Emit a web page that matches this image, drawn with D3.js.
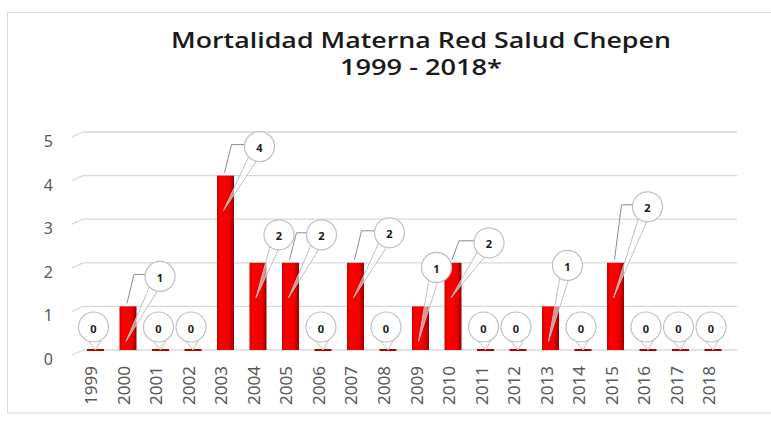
<!DOCTYPE html>
<html>
<head>
<meta charset="utf-8">
<script src="https://cdn.jsdelivr.net/npm/d3@7"></script>
<style>
    body { margin: 0; background: #fff; }
    svg { display: block; }
    text { font-family: "Noto Sans", "Open Sans", sans-serif; }
</style>
</head>
<body>
<div id="chart"></div>
<script>
var years = ["1999", "2000", "2001", "2002", "2003", "2004", "2005", "2006", "2007", "2008",
    "2009", "2010", "2011", "2012", "2013", "2014", "2015", "2016", "2017", "2018"];
var deaths = [0, 1, 0, 0, 4, 2, 2, 0, 2, 0, 1, 2, 0, 0, 1, 0, 2, 0, 0, 0];
var yTicks = [0, 1, 2, 3, 4, 5];
var titleLines = ["Mortalidad Materna Red Salud Chepen", "1999 - 2018*"];

// hand placed callouts (px from the top of each column), like the excel original
var labelDx = [-2, 32, -2, -2, 34, 21, 31, -2, 34, -2, 16, 36, -2, -2, 17, -2, 32, -2, -2, -2];
var labelDy = [-23, -30, -23, -23, -29, -28, -28, -23, -30, -23, -39, -20, -23, -23, -41, -23, -56, -23, -23, -23];

(function () {
    var width = 771, height = 421, r = 15;
    var svg, x, y, bw, defs, grad;

    svg = d3.select("#chart").append("svg")
        .attr("width", width)
        .attr("height", height);

    // chart frame
    svg.append("rect")
        .attr("x", 7.5).attr("y", 12.5)
        .attr("width", 790).attr("height", 400.5)
        .attr("fill", "#fff")
        .attr("stroke", "#d9d9d9");

    x = d3.scaleBand().domain(years).range([87, 721.5]).paddingInner(0.477).paddingOuter(0);
    y = d3.scaleLinear().domain([0, 5]).range([350, 132]);
    bw = x.bandwidth();

    defs = svg.append("defs");
    grad = defs.append("linearGradient").attr("id", "barFill");
    grad.append("stop").attr("offset", "0%").attr("stop-color", "#c80000");
    grad.append("stop").attr("offset", "18%").attr("stop-color", "#ff0000");
    grad.append("stop").attr("offset", "70%").attr("stop-color", "#f20000");
    grad.append("stop").attr("offset", "100%").attr("stop-color", "#9a0000");

    // title
    svg.selectAll(".title")
        .data(titleLines)
        .enter().append("text")
        .attr("class", "title")
        .attr("x", 421)
        .attr("y", (d, i) => 48 + i * 27)
        .attr("text-anchor", "middle")
        .attr("font-size", 21)
        .attr("font-weight", 600)
        .style("font-family", "'Open Sans', 'Noto Sans', sans-serif")
        .attr("fill", "#1a1a1a")
        .attr("textLength", (d, i) => i == 0 ? 500 : 162)
        .attr("lengthAdjust", "spacingAndGlyphs")
        .text(d => d);

    // back wall gridlines with the little 3d corner on the left
    var grid = svg.append("g");
    grid.selectAll("line.grid")
        .data(yTicks)
        .enter().append("line")
        .attr("class", "grid")
        .attr("x1", 83).attr("x2", 737)
        .attr("y1", d => y(d)).attr("y2", d => y(d))
        .attr("stroke", "#d9d9d9")
        .attr("stroke-width", 1.3);
    grid.selectAll("line.corner")
        .data(yTicks)
        .enter().append("line")
        .attr("class", "corner")
        .attr("x1", 72).attr("x2", 83)
        .attr("y1", d => y(d) + 5).attr("y2", d => y(d))
        .attr("stroke", "#d9d9d9")
        .attr("stroke-width", 1.3);
    grid.selectAll("text")
        .data(yTicks)
        .enter().append("text")
        .attr("x", 53)
        .attr("y", d => y(d) + 9)
        .attr("text-anchor", "end")
        .attr("dominant-baseline", "central")
        .attr("font-size", 16)
        .attr("fill", "#595959")
        .text(d => d);

    // year labels
    svg.append("g").selectAll("text")
        .data(years)
        .enter().append("text")
        .attr("transform", d => "translate(" + (x(d) + bw / 2 - 4) + "," + 366 + ") rotate(-90)")
        .attr("text-anchor", "end")
        .attr("dominant-baseline", "central")
        .attr("font-size", 16)
        .attr("textLength", 39)
        .attr("lengthAdjust", "spacingAndGlyphs")
        .attr("fill", "#595959")
        .text(d => d);

    var data = years.map((d, i) => ({ year: d, value: deaths[i], dx: labelDx[i], dy: labelDy[i] }));

    // columns
    svg.append("g").selectAll("rect")
        .data(data)
        .enter().append("rect")
        .attr("x", d => x(d.year))
        .attr("width", bw)
        .attr("y", d => d.value > 0 ? y(d.value) : y(0) - 1)
        .attr("height", d => d.value > 0 ? y(0) - y(d.value) : 2)
        .attr("fill", d => d.value > 0 ? "url(#barFill)" : "#b00000");

    // callouts
    var callouts = svg.append("g").selectAll("g")
        .data(data)
        .enter().append("g");

    callouts.each(function (d) {
        var g = d3.select(this);
        var bx = x(d.year) + bw / 2;
        var top = y(d.value);
        var cx = bx + d.dx, cy = top + d.dy;
        var tx, ty;
        if (d.value > 0) {
            tx = bx - 2; ty = top + 35;
        } else {
            tx = bx; ty = y(0);
        }
        var th = Math.atan2(ty - cy, tx - cx);
        var spread = d.value > 0 ? 0.3 : 0.45;
        var p1 = [cx + r * Math.cos(th - spread), cy + r * Math.sin(th - spread)];
        var p2 = [cx + r * Math.cos(th + spread), cy + r * Math.sin(th + spread)];

        // leader line
        if (d.value > 0 && cx - r - (bx + 6) > 3) {
            g.append("path")
                .attr("d", "M" + (bx - 1) + "," + (top - 3) + " L" + (bx + 6) + "," + (cy - 2) +
                    " L" + (cx - r) + "," + (cy - 2))
                .attr("fill", "none")
                .attr("stroke", "#8c8c8c")
                .attr("stroke-width", 1);
        }

        g.append("path")
            .attr("d", "M" + tx + "," + ty + " L" + p1[0] + "," + p1[1] + " L" + p2[0] + "," + p2[1] + " Z")
            .attr("fill", "#fff")
            .attr("fill-opacity", 0.55)
            .attr("stroke", "#bfbfbf")
            .attr("stroke-width", 1);

        g.append("circle")
            .attr("cx", cx).attr("cy", cy).attr("r", r)
            .attr("fill", "#fff")
            .attr("stroke", "#bfbfbf")
            .attr("stroke-width", 1.2);

        g.append("text")
            .attr("x", cx).attr("y", cy + 1)
            .attr("text-anchor", "middle")
            .attr("dominant-baseline", "central")
            .attr("font-size", 11)
            .attr("font-weight", "bold")
            .attr("fill", "#1a1a1a")
            .text(d.value);
    });
})();
</script>
</body>
</html>
